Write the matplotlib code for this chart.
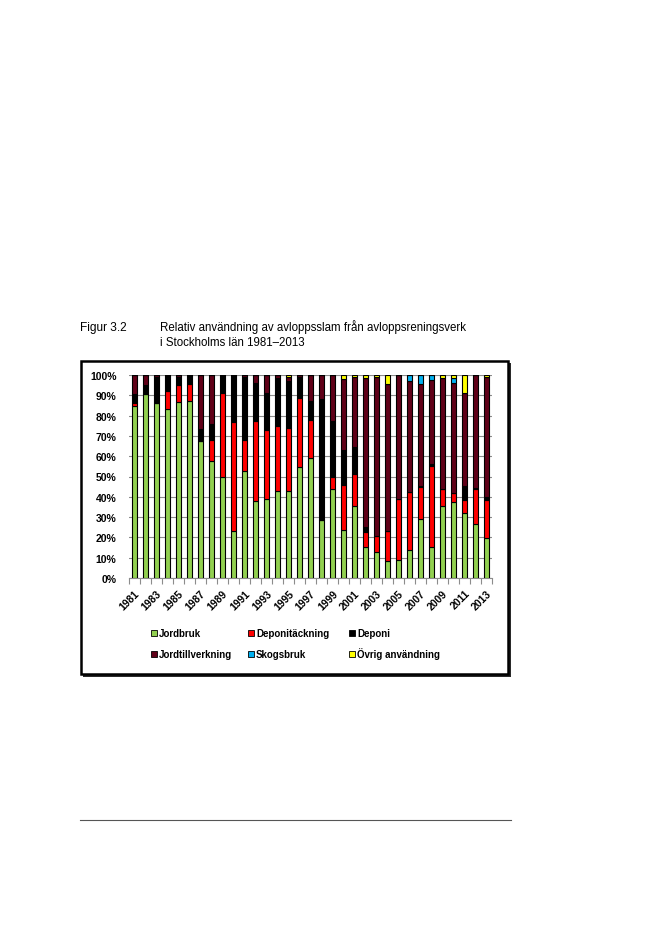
import numpy as np
import matplotlib.pyplot as plt
from matplotlib.patches import Rectangle
from matplotlib.lines import Line2D

years = list(range(1981, 2014))
tick_labels = [str(y) if (y - 1981) % 2 == 0 else '' for y in years]

# Share (%) per category and year
jordbruk = [84.8, 90.7, 86.3, 83.3, 86.7, 87.2, 67.4, 57.8, 49.9, 23.1, 52.5,
            38.1, 39.1, 43.0, 43.0, 54.8, 58.9, 28.6, 43.7, 23.4, 35.4, 15.5,
            12.8, 8.3, 8.8, 13.7, 29.3, 15.2, 35.4, 37.2, 32.2, 26.5, 19.6]
deponitackning = [1.6, 0.0, 0.0, 8.7, 8.2, 8.2, 0.0, 10.1, 41.3, 53.7, 15.7,
                  39.1, 33.7, 31.8, 30.8, 33.7, 18.8, 0.0, 6.2, 22.3, 15.8, 7.4,
                  8.1, 14.9, 30.3, 28.9, 15.4, 40.0, 8.6, 4.9, 6.3, 17.2, 19.0]
deponi = [4.0, 4.2, 12.6, 8.0, 4.0, 4.6, 5.9, 7.9, 8.8, 23.2, 30.7,
          18.7, 18.5, 23.6, 23.2, 10.4, 9.4, 59.8, 27.2, 17.3, 13.1, 2.1,
          0.0, 0.0, 0.0, 0.0, 0.5, 0.8, 0.0, 0.0, 6.8, 0.5, 1.3]
jordtillverkning = [9.6, 5.1, 1.1, 0.0, 1.1, 0.0, 26.7, 24.2, 0.0, 0.0, 1.1,
                    4.1, 8.7, 1.6, 2.2, 1.1, 12.9, 11.6, 22.9, 34.9, 34.6, 73.7,
                    78.3, 72.2, 60.9, 54.3, 50.2, 41.4, 54.7, 54.1, 45.7, 55.8, 59.3]
skogsbruk = [0.0] * 25 + [3.1, 4.6, 2.6, 0.0, 2.5, 0.0, 0.0, 0.0]
ovrig = [0.0] * 14 + [0.8, 0.0, 0.0, 0.0, 0.0, 2.1, 1.1, 1.3,
                      0.8, 4.6, 0.0, 0.0, 0.0, 0.0, 1.3, 1.3, 9.0, 0.0, 0.8]

series = [
    ('Jordbruk', jordbruk, '#92D050'),
    ('Deponitäckning', deponitackning, '#FF0000'),
    ('Deponi', deponi, '#000000'),
    ('Jordtillverkning', jordtillverkning, '#600018'),
    ('Skogsbruk', skogsbruk, '#00B0F0'),
    ('Övrig användning', ovrig, '#FFFF00'),
]

W, H = 650, 953
plt.rcParams['font.family'] = ['Liberation Sans', 'DejaVu Sans']
fig = plt.figure(figsize=(6.5, 9.53), dpi=100)

# chart frame with shadow
fig.patches.append(Rectangle((83 / W, 1 - 678 / H), 428 / W, 314 / H,
                             transform=fig.transFigure, facecolor='#2a2a2a',
                             edgecolor='none', zorder=0))
fig.patches.append(Rectangle((80.5 / W, 1 - 675 / H), 427 / W, 313.5 / H,
                             transform=fig.transFigure, facecolor='white',
                             edgecolor='black', linewidth=1.8, zorder=1))

ax = fig.add_axes([129 / W, 1 - 579 / H, 363 / W, 203 / H])
ax.set_zorder(2)
ax.patch.set_alpha(0)

x = np.arange(len(years))
bottom = np.zeros(len(years))
for name, vals, color in series:
    vals = np.array(vals)
    ax.bar(x, vals, width=0.5, bottom=bottom, color=color, edgecolor='black',
           linewidth=0.8, label=name, zorder=3)
    bottom += vals

ax.set_xlim(-0.5, len(years) - 0.5)
ax.set_ylim(0, 100)
ax.set_yticks(np.arange(0, 101, 10))
ax.set_yticklabels([f'{v}%' for v in range(0, 101, 10)], fontsize=7.5,
                   fontweight='bold')
ax.yaxis.grid(True, color='#8c8c8c', linewidth=0.8, zorder=0)
ax.set_axisbelow(True)
ax.tick_params(axis='y', length=0, pad=9)

ax.set_xticks(x)
ax.set_xticklabels(tick_labels, rotation=45, ha='right', rotation_mode='anchor',
                   fontsize=7.5, fontweight='bold')
ax.set_xticks(np.arange(-0.5, len(years), 1), minor=True)
ax.tick_params(axis='x', which='major', length=0, pad=7)
ax.tick_params(axis='x', which='minor', length=4, color='#8c8c8c', width=0.8)
for s in ['top', 'right', 'left']:
    ax.spines[s].set_visible(False)
ax.spines['bottom'].set_color('#8c8c8c')
ax.spines['bottom'].set_linewidth(0.8)

# legend, laid out as in the original (3 columns, 2 rows)
leg_x = [151, 248, 349]
leg_y = [633.5, 655]
for k, (name, _, color) in enumerate(series):
    px, py = leg_x[k % 3], leg_y[k // 3]
    fig.patches.append(Rectangle((px / W, 1 - (py + 3) / H), 6 / W, 6 / H,
                                 transform=fig.transFigure, facecolor=color,
                                 edgecolor='black', linewidth=0.6, zorder=3))
    fig.text((px + 8) / W, 1 - (py + 3.5) / H, name, fontsize=7,
             fontweight='bold', va='baseline', ha='left', zorder=3)

fig.text(80 / W, 1 - 331 / H, 'Figur 3.2', fontsize=8.6, va='baseline')
fig.text(160 / W, 1 - 331 / H,
         'Relativ användning av avloppsslam från avloppsreningsverk',
         fontsize=8.3, va='baseline')
fig.text(160 / W, 1 - 346 / H, 'i Stockholms län 1981–2013', fontsize=8.3,
         va='baseline')

fig.add_artist(Line2D([80 / W, 511 / W], [1 - 821 / H, 1 - 821 / H],
                      transform=fig.transFigure, color='#555555', linewidth=0.8))

fig.savefig('out.png', dpi=100)
